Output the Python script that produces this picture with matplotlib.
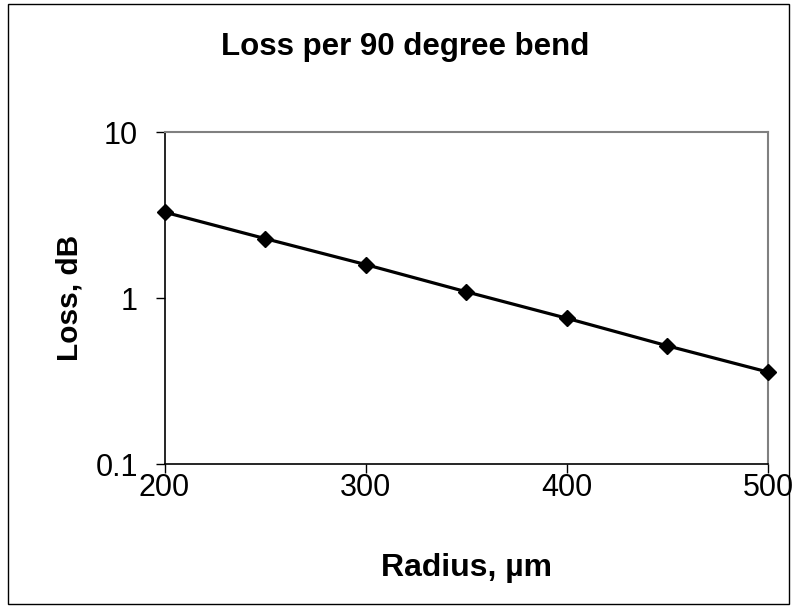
import matplotlib.pyplot as plt
from matplotlib.patches import Rectangle

# data
radius = [200, 250, 300, 350, 400, 450, 500]
loss = [3.29, 2.28, 1.59, 1.09, 0.755, 0.515, 0.358]
y_ticks = [0.1, 1, 10]
y_tick_labels = ["0.1", "1", "10"]
x_ticks = [200, 300, 400, 500]

plt.rcParams['font.family'] = ['Liberation Sans', 'DejaVu Sans']

fig = plt.figure(figsize=(7.93, 6.07), dpi=100)
ax = fig.add_axes([164.5 / 793, 1 - 464 / 607, (768 - 164.5) / 793, (464 - 132) / 607])

ax.plot(radius, loss, color='black', lw=2.3, marker='D', markersize=8, zorder=3, clip_on=False)

ax.set_yscale('log')
ax.set_ylim(0.1, 10)
ax.set_xlim(200, 500)
ax.set_xticks(x_ticks)
ax.set_xticklabels([str(v) for v in x_ticks])
ax.set_yticks(y_ticks)
ax.set_yticklabels(y_tick_labels)
ax.minorticks_off()
ax.tick_params(axis='both', direction='out', length=6.5, width=1, labelsize=22)
ax.tick_params(axis='x', pad=0)
ax.tick_params(axis='y', pad=12.5)

for s in ['top', 'right']:
    ax.spines[s].set_color('#808080')
    ax.spines[s].set_linewidth(1.5)
for s in ['left', 'bottom']:
    ax.spines[s].set_color('black')
    ax.spines[s].set_linewidth(1.2)

ax.set_xlabel("Radius, µm", fontsize=23, fontweight='bold', labelpad=36)
ax.set_ylabel("Loss, dB", fontsize=21.5, fontweight='bold', labelpad=9)

fig.text(0.511, 1 - 55 / 607, "Loss per 90 degree bend", ha='center', va='baseline',
         fontsize=22.5, fontweight='bold')

# outer chart border
fig.patches.append(Rectangle((8 / 793, 3 / 607), 781 / 793, 600 / 607, transform=fig.transFigure,
                             fill=False, edgecolor='black', lw=1))

fig.savefig("out.png", dpi=100)
